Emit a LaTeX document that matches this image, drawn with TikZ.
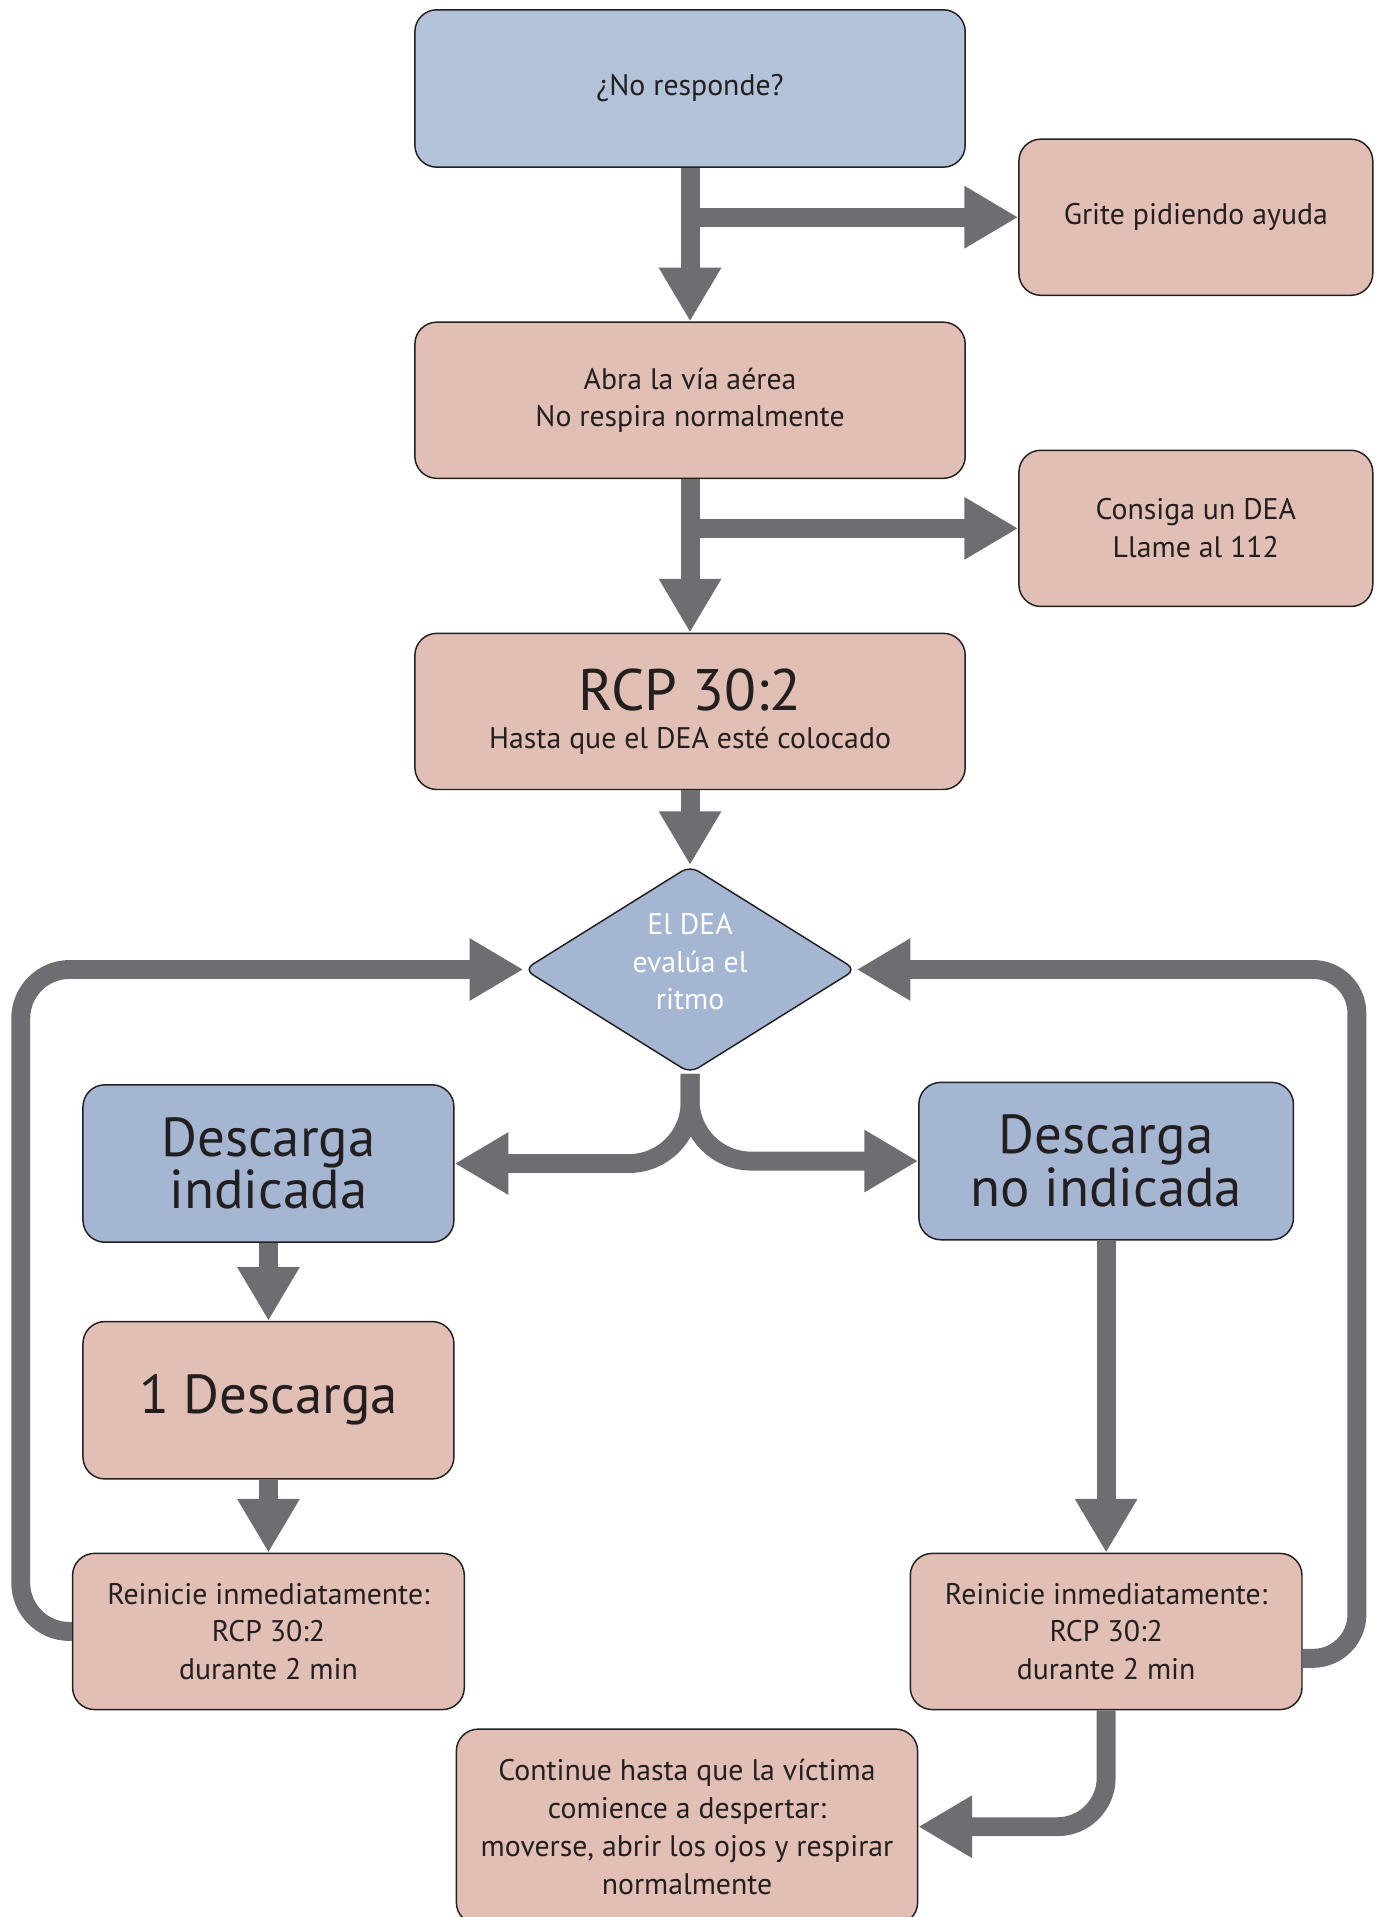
\documentclass[tikz,border=0pt]{standalone}
\usepackage{fontspec}
\setmainfont{PT Sans}
\usetikzlibrary{shapes.geometric,arrows.meta}
\definecolor{boxblue}{HTML}{B2C2D8}
\definecolor{boxblue2}{HTML}{A5B6D2}
\definecolor{boxpink}{HTML}{E2BFB4}
\definecolor{arrowgray}{HTML}{6D6E72}
\definecolor{inkdark}{HTML}{231F20}
\begin{document}
\begin{tikzpicture}[x=0.5pt, y=-0.5pt]
\tikzset{
  box/.style={draw=inkdark, line width=0.6pt, rounded corners=9pt, align=center, text=inkdark, inner sep=2pt, font=\fontsize{12.2}{15.5}\selectfont},
  bluebox/.style={box, fill=boxblue},
  pinkbox/.style={box, fill=boxpink},
  bigtext/.style={font=\fontsize{22.5}{21.5}\selectfont},
  flow/.style={draw=arrowgray, line width=7.75pt, -{Triangle[length=22pt,width=24pt]}},
}
\useasboundingbox (0,0) rectangle (1135,1571);
%\draw[help lines] (0,0) grid[step=50] (1135,1571);
\node[bluebox, minimum width=225.5pt, minimum height=64.5pt] (q) at (565.5,72.5) {¿No responde?};
\node[pinkbox, minimum width=145pt, minimum height=64pt] (grite) at (980,178) {Grite pidiendo ayuda};
\node[pinkbox, minimum width=225.5pt, minimum height=64pt] (abra) at (565.5,328) {Abra la vía aérea\\No respira normalmente};
\node[pinkbox, minimum width=145pt, minimum height=64pt] (dea) at (980,433) {Consiga un DEA\\Llame al 112};
\node[pinkbox, minimum width=225.5pt, minimum height=64pt] (rcp) at (565.5,583) {{\fontsize{24}{24}\selectfont RCP 30:2}\\Hasta que el DEA esté colocado};

\node[diamond, draw=inkdark, line width=0.6pt, fill=boxblue2, rounded corners=4pt, shape aspect=1.6, inner sep=0pt, minimum width=136pt, minimum height=85pt, align=center, text=white, text depth=6.5pt, font=\fontsize{12.2}{15.5}\selectfont] (eval) at (565.5,794.5) {El DEA\\evalúa el\\ritmo};

\node[box, fill=boxblue2, minimum width=152pt, minimum height=64.5pt, bigtext] (desc) at (220,953.5) {Descarga\\indicada};
\node[box, fill=boxblue2, minimum width=153.5pt, minimum height=64.5pt, bigtext] (nodesc) at (906.5,951.5) {Descarga\\no indicada};
\node[pinkbox, minimum width=152pt, minimum height=64.5pt, bigtext] (uno) at (220,1147.5) {1 Descarga};
\node[pinkbox, minimum width=160.5pt, minimum height=64pt] (reiL) at (220,1337) {Reinicie inmediatamente:\\RCP 30:2\\durante 2 min};
\node[pinkbox, minimum width=160.5pt, minimum height=64pt] (reiR) at (906.5,1337) {Reinicie inmediatamente:\\RCP 30:2\\durante 2 min};
\node[pinkbox, minimum width=189pt, minimum height=80pt] (cont) at (563,1497) {Continue hasta que la víctima\\comience a despertar:\\moverse, abrir los ojos y respirar\\normalmente};

\coordinate (loopL) at (17,794.5);
\coordinate (loopR) at (1112,794.5);

\draw[flow] (q) -- (abra);
\draw[flow] (q.south |- grite.west) -- (grite.west);
\draw[flow] (abra) -- (rcp);
\draw[flow] (abra.south |- dea.west) -- (dea.west);
\draw[flow] (rcp) -- (eval);
\draw[flow, rounded corners=25pt] (eval.south) |- (desc.east);
\draw[flow, rounded corners=25pt] (eval.south) |- (nodesc.west);
\draw[flow] (desc) -- (uno);
\draw[flow] (uno) -- (reiL);
\draw[flow] (nodesc) -- (reiR);
\draw[flow, rounded corners=20pt] (reiL.west) -| (loopL) -- (eval.west);
\draw[flow, rounded corners=18pt] ([yshift=-11pt]reiR.east) -| (loopR) -- (eval.east);
\draw[flow, rounded corners=20pt] (reiR.south) |- (cont.east);
\end{tikzpicture}
\end{document}
